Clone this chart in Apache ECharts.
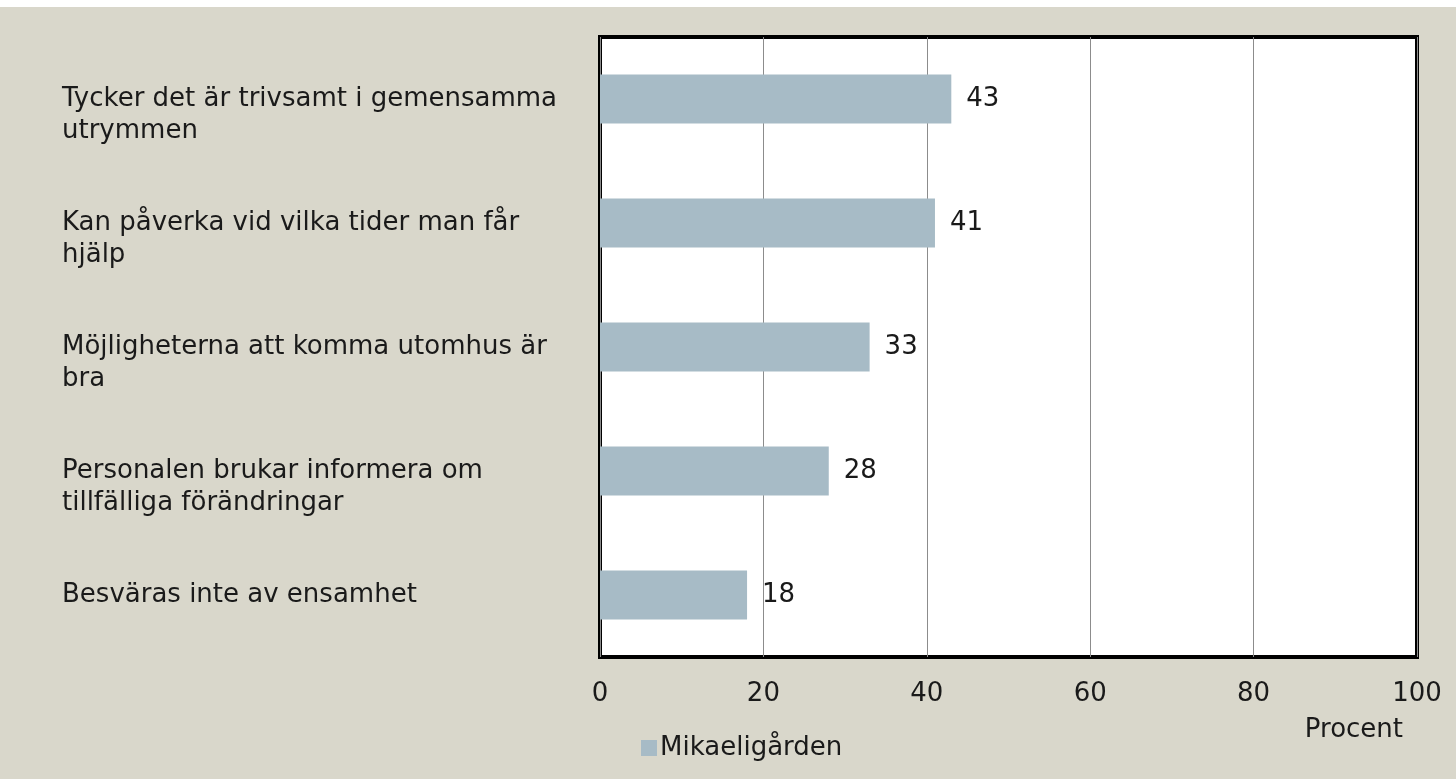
<!DOCTYPE html>
<html>
<head>
<meta charset="utf-8">
<script src="https://cdn.jsdelivr.net/npm/echarts@6/dist/echarts.min.js"></script>
<style>
  html, body { margin: 0; padding: 0; background: #fff; }
  #main { position: absolute; left: 0; top: 7px; width: 1456px; height: 772px; }
</style>
</head>
<body>
<div id="main"></div>
<script>
var categories = [
  'Tycker det är trivsamt i gemensamma\nutrymmen',
  'Kan påverka vid vilka tider man får\nhjälp',
  'Möjligheterna att komma utomhus är\nbra',
  'Personalen brukar informera om\ntillfälliga förändringar',
  'Besväras inte av ensamhet'
];
var values = [43, 41, 33, 28, 18];
var seriesName = 'Mikaeligården';
var axisName = 'Procent';

var font = '"DejaVu Sans", sans-serif';
var fs = 26;
var chart = echarts.init(document.getElementById('main'));

var option = {
  backgroundColor: '#d9d7cb',
  textStyle: { fontFamily: font },
  grid: {
    left: 600, right: 39, top: 30, bottom: 122,
    show: true,
    backgroundColor: '#fff',
    borderColor: '#000',
    borderWidth: 4
  },
  legend: {
    left: 636,
    top: 723,
    icon: 'rect',
    itemWidth: 16,
    itemHeight: 16,
    itemGap: 5,
    textStyle: { fontFamily: font, fontSize: fs, color: '#1a1a1a', padding: [0, 0, 0, -2] },
    data: [seriesName]
  },
  xAxis: {
    type: 'value',
    min: 0, max: 100, interval: 20,
    axisLine: { show: false },
    axisTick: { show: false },
    splitLine: { lineStyle: { color: '#8c8c8c', width: 1 } },
    axisLabel: { margin: 24, fontSize: fs, color: '#1a1a1a', fontFamily: font },
    name: axisName,
    nameLocation: 'end',
    nameGap: -14,
    nameTextStyle: {
      fontFamily: font, fontSize: fs, color: '#1a1a1a',
      align: 'right', verticalAlign: 'top', padding: [60, 0, 0, 0]
    }
  },
  yAxis: {
    type: 'category',
    inverse: true,
    data: categories,
    axisLine: { show: false },
    axisTick: { show: false },
    axisLabel: {
      align: 'left',
      margin: 538,
      fontSize: fs,
      lineHeight: 32,
      color: '#1a1a1a',
      fontFamily: font,
      formatter: function (v) { return v.indexOf('\n') >= 0 ? '\n' + v : v; }
    }
  },
  series: [{
    name: seriesName,
    type: 'bar',
    data: values,
    barWidth: 49,
    itemStyle: { color: '#a7bbc6' },
    label: {
      show: true,
      position: 'right',
      distance: 15,
      fontSize: fs,
      color: '#1a1a1a',
      fontFamily: font
    }
  }]
};
chart.setOption(option);
window.onresize = function () { chart.resize(); };
</script>
</body>
</html>
